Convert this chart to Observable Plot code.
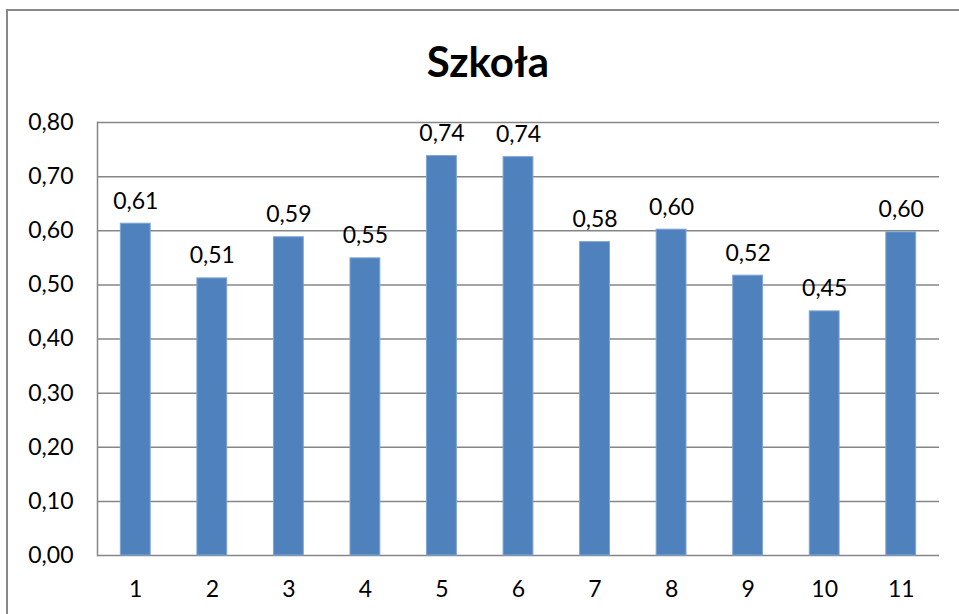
<!DOCTYPE html>
<html>
<head>
<meta charset="utf-8">
<script src="https://cdn.jsdelivr.net/npm/d3@7"></script>
<script src="https://cdn.jsdelivr.net/npm/@observablehq/plot@0.6"></script>
<style>
  html, body { margin: 0; padding: 0; background: #fff; }
  #wrap { position: relative; width: 959px; height: 614px; overflow: hidden; font-family: Lato, "Open Sans", sans-serif; }
  #border { position: absolute; left: 6px; top: 9px; width: 1000px; height: 700px; border: 2px solid #888; box-sizing: border-box; }
  #title { position: absolute; left: 0; width: 976px; top: 35px; text-align: center; font-weight: bold; font-size: 42px; line-height: 52px; color: #000; }
  #chart { position: absolute; left: 0; top: 0; }
  #chart svg text { font-size: 23px; font-family: Lato, "Open Sans", sans-serif; }
</style>
</head>
<body>
<div id="wrap">
  <div id="border"></div>
  <div id="title">Szkoła</div>
  <div id="chart"></div>
</div>
<script>
const categories = ["1","2","3","4","5","6","7","8","9","10","11"];
const values = [0.613, 0.512, 0.588, 0.549, 0.738, 0.736, 0.579, 0.602, 0.517, 0.451, 0.597];
const valueLabels = ["0,61","0,51","0,59","0,55","0,74","0,74","0,58","0,60","0,52","0,45","0,60"];
const yTicks = [0, 0.1, 0.2, 0.3, 0.4, 0.5, 0.6, 0.7, 0.8];
const yTickLabels = ["0,00","0,10","0,20","0,30","0,40","0,50","0,60","0,70","0,80"];

const data = categories.map((c, i) => ({k: c, v: values[i], label: valueLabels[i]}));
const fmt = d => yTickLabels[yTicks.findIndex(t => Math.abs(t - d) < 1e-9)];

const plot = Plot.plot({
  width: 959,
  height: 614,
  marginLeft: 97,
  marginRight: 20,
  marginTop: 122,
  marginBottom: 59,
  style: {fontFamily: "Lato, 'Open Sans', sans-serif", fontSize: "23px", color: "#000", background: "transparent"},
  x: {domain: categories, paddingInner: 0.61, paddingOuter: 0.305, round: false, axis: null, label: null},
  y: {domain: [0, 0.8], axis: null, label: null},
  marks: [
    Plot.ruleY(yTicks, {stroke: "#868686", strokeWidth: 1.5}),
    Plot.frame({anchor: "left", stroke: "#868686", strokeWidth: 1.5}),
    Plot.barY(data, {x: "k", y: "v", fill: "#4F81BD", stroke: "#7FA5D6", strokeWidth: 1}),
    Plot.text(data, {x: "k", y: "v", text: "label", lineAnchor: "bottom", dy: -15, fontSize: 23, fill: "#000"}),
    Plot.axisY({ticks: yTicks, tickFormat: fmt, tickSize: 0, tickPadding: 24, fontSize: 23, fill: "#000", label: null}),
    Plot.axisX({tickSize: 0, tickPadding: 25, fontSize: 23, fill: "#000", label: null})
  ]
});
document.getElementById("chart").appendChild(plot);
</script>
</body>
</html>
